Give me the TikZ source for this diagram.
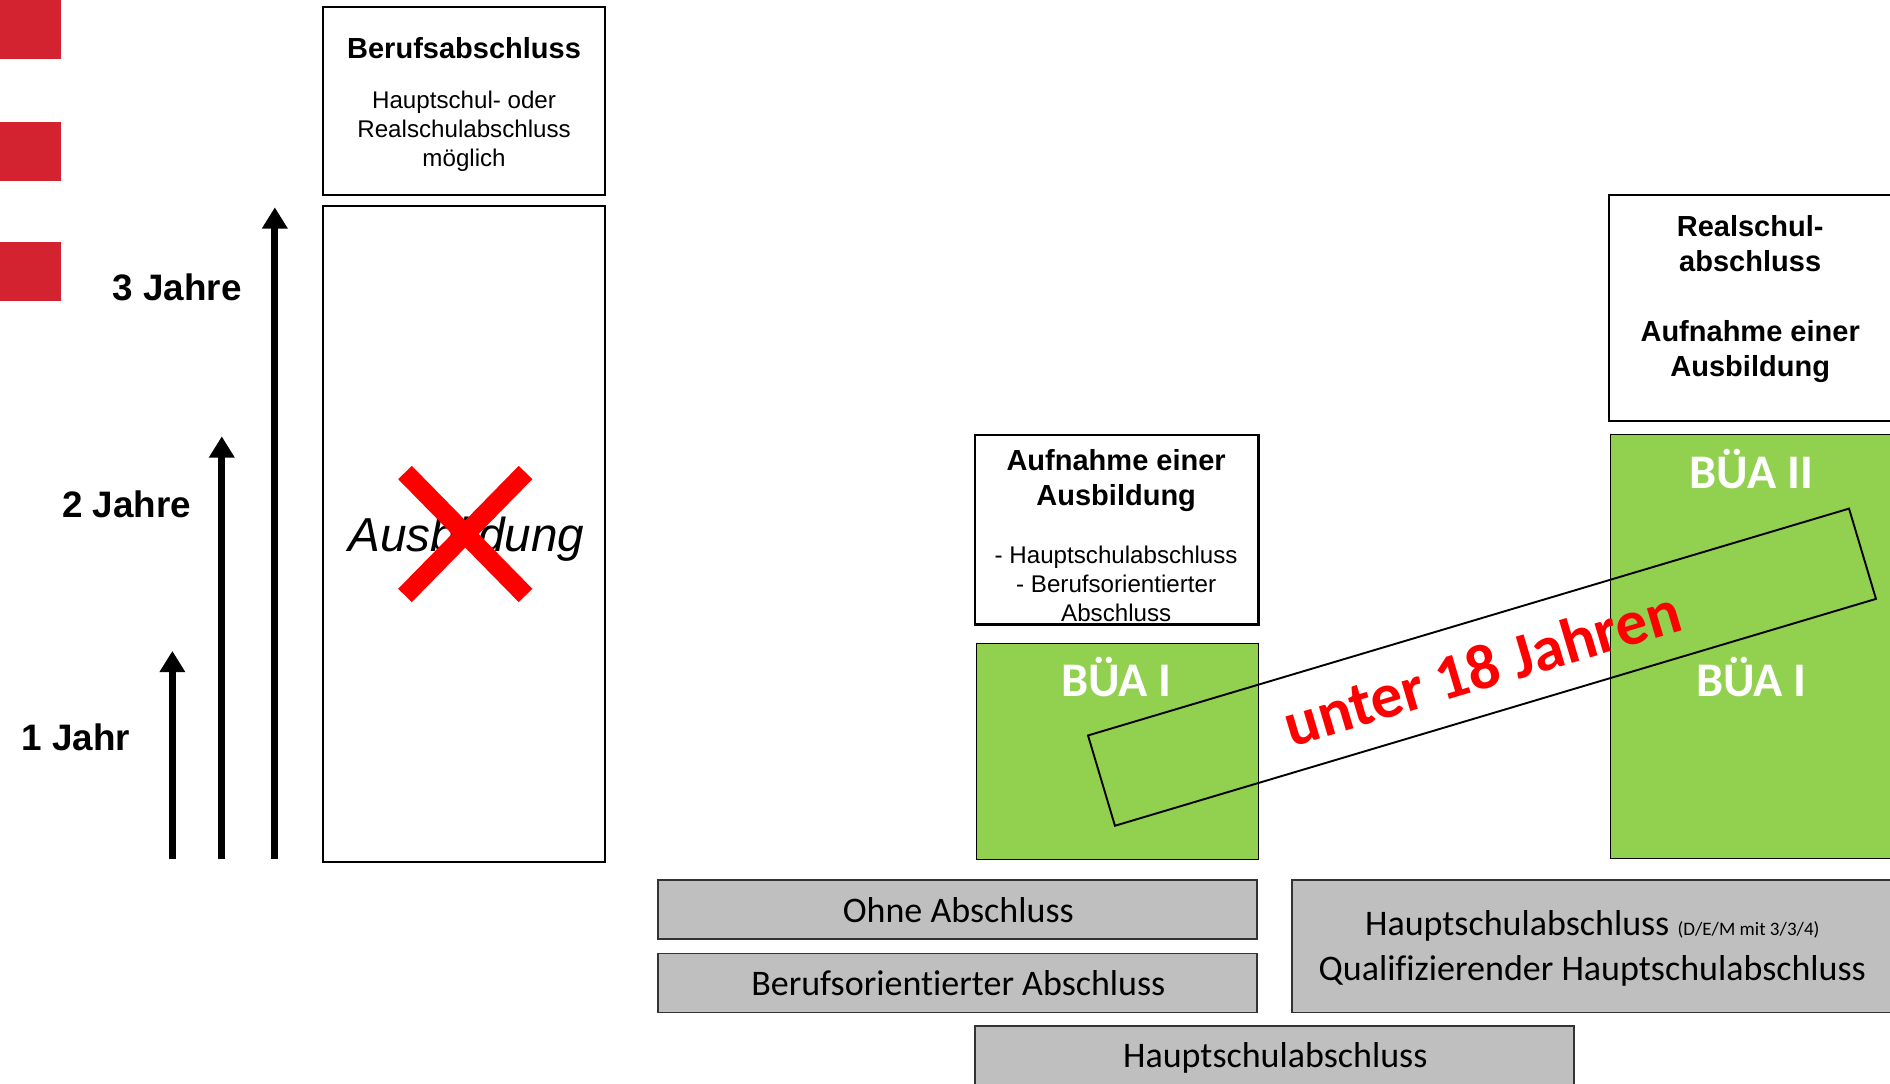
\documentclass[tikz,border=0pt]{standalone}
\usepackage{fontspec}
\setmainfont{Liberation Sans}
\newfontfamily\calibri[Ligatures=NoCommon]{Carlito}
\usetikzlibrary{arrows.meta}

\definecolor{signalred}{RGB}{211,35,48}
\definecolor{buagreen}{RGB}{146,208,80}
\definecolor{boxgrey}{RGB}{191,191,191}

\begin{document}
\begin{tikzpicture}[x=0.02cm,y=-0.02cm]

	\tikzstyle year arrows=[line width=3.4pt, -{Triangle[length=10pt,width=11.5pt]}];
	\tikzstyle year labels=[font=\fontsize{17.4}{20}\selectfont\bfseries, inner sep=0pt];
	\tikzstyle white boxes=[draw, line width=1.1pt];
	\tikzstyle green boxes=[fill=buagreen];
	\tikzstyle grey boxes=[draw=black!80, line width=0.9pt, fill=boxgrey];
	\tikzstyle box titles=[align=center, inner sep=0pt, font=\fontsize{13.7}{16.5}\selectfont\bfseries];
	\tikzstyle box texts=[align=center, inner sep=0pt, font=\fontsize{11.4}{13.7}\selectfont];
	\tikzstyle bua labels=[text=white, inner sep=0pt, font=\calibri\fontsize{22.8}{26}\selectfont\bfseries];
	\tikzstyle grey labels=[inner sep=0pt, font=\calibri\fontsize{17}{21}\selectfont];

	\useasboundingbox (0,0) rectangle (1568,898.5);

	% red marks on the left edge
	\foreach \y in {0,101,201}
		\fill[signalred] (0,\y) rectangle (51,\y+49);

	\foreach \x/\tip/\lx/\ly/\label in {143/540/63/612/1 Jahr, 184/362/105/418/2 Jahre, 228/172/147/238/3 Jahre}
	{
		\draw[year arrows] (\x,713) -- (\x,\tip);
		\node[year labels] (year\x) at (\lx,\ly) {\label};
	}

	\draw[white boxes] (268,6) rectangle (502,162);
		\node[box titles] (berufTitle) at (385,40) {Berufsabschluss};
		\node[box texts] (berufText) at (385,109) {Hauptschul- oder\\Realschulabschluss\\möglich};

	\draw[white boxes] (268,171) rectangle (502,715);
		\node[inner sep=0pt, font=\fontsize{22.5}{26}\selectfont\itshape] (ausbildung) at (387,447) {Ausbildung};
		\draw[red, line width=9pt] (336,392) -- (436,494) (436,392) -- (336,494);

	\draw[white boxes] (809,361) rectangle (1044,518);
		\node[box titles] (aufnahmeTitle) at (926,399) {Aufnahme einer\\Ausbildung};
		\node[box texts] (aufnahmeText) at (926,484) {- Hauptschulabschluss\\- Berufsorientierter\\Abschluss};

	\draw[green boxes] (810,534) rectangle (1044,713);
		\node[bua labels] (buaOne) at (926,562) {BÜA I};

	\draw[white boxes] (1335,162) rectangle (1575,349);
		\node[box titles] (realTitle) at (1452,248) {Realschul-\\abschluss\\[16.5pt]Aufnahme einer\\Ausbildung};

	\draw[green boxes] (1336,360) rectangle (1575,712);
		\node[bua labels] (buaTwo) at (1453,389) {BÜA II};
		\node[bua labels] (buaOneRight) at (1453,562) {BÜA I};

	\node[draw, line width=0.9pt, rotate=16.6, minimum width=375pt, minimum height=44.5pt, inner sep=0pt,
		text=red, font=\calibri\fontsize{30}{34}\selectfont\bfseries] (unter) at (1229.5,553.5) {unter 18 Jahren};

	\draw[grey boxes] (546,730) rectangle (1043,779);
		\node[grey labels] (ohne) at (795,755) {Ohne Abschluss};
	\draw[grey boxes] (546,791) rectangle (1043,840);
		\node[grey labels] (berufsorientiert) at (795,816) {Berufsorient\kern0pt ierter Abschluss};
	\draw[grey boxes] (1072,730) rectangle (1575,840);
		\node[grey labels, align=center] (haupt) at (1321,787) {Hauptschulabschluss {\fontsize{9}{10}\selectfont (D/E/M mit 3/3/4)}\\Qualifizierender Hauptschulabschluss};
	\draw[grey boxes] (809,851) rectangle (1306,905);
		\node[grey labels] (hauptUnten) at (1058,878) {Hauptschulabschluss};

\end{tikzpicture}
\end{document}
